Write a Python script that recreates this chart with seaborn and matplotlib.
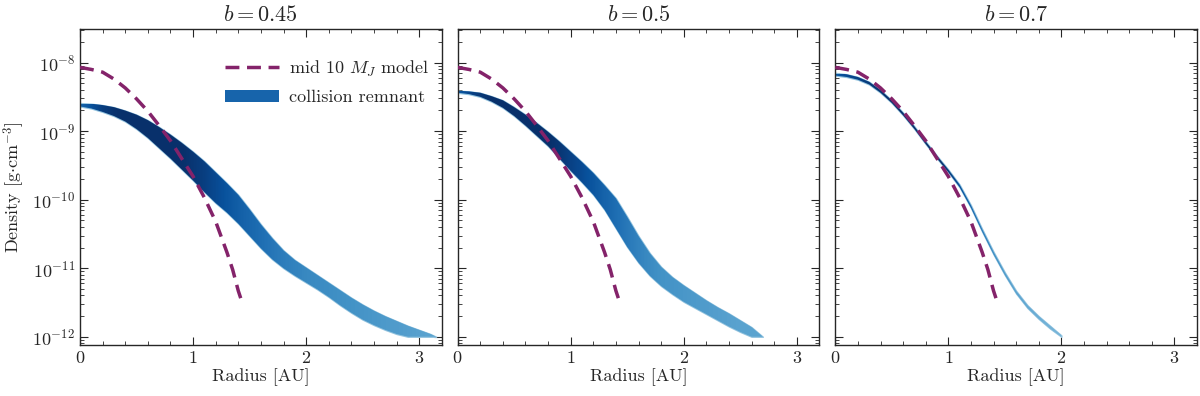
import numpy as np
import matplotlib
matplotlib.use("Agg")
import matplotlib.pyplot as plt
from matplotlib.patches import Patch
from matplotlib.ticker import AutoMinorLocator
import seaborn as sns

# --- data (log10 of density in g cm^-3) ---
titles = [r"$b = 0.45$", r"$b = 0.5$", r"$b = 0.7$"]

# mid 10 M_J model profile (same in every panel)
model_r = [0.0, 0.1, 0.2, 0.3, 0.4, 0.5, 0.6, 0.7, 0.8, 0.9, 1.0, 1.1, 1.2, 1.3, 1.35, 1.4, 1.43]
model_logrho = [-8.07, -8.10, -8.14, -8.24, -8.37, -8.53, -8.71, -8.92, -9.14, -9.40, -9.66,
                -9.97, -10.32, -10.77, -11.02, -11.33, -11.48]

# collision remnant bands: radius, upper / lower edge, colour shade
r_045 = [0.0, 0.1, 0.2, 0.3, 0.4, 0.5, 0.6, 0.7, 0.8, 0.9, 1.0, 1.1, 1.2, 1.3, 1.4, 1.5, 1.6,
         1.7, 1.8, 1.9, 2.0, 2.1, 2.2, 2.3, 2.4, 2.5, 2.6, 2.7, 2.8, 2.9, 3.0, 3.1, 3.15]
hi_045 = [-8.59, -8.60, -8.62, -8.65, -8.70, -8.76, -8.84, -8.94, -9.05, -9.17, -9.30, -9.44,
          -9.60, -9.76, -9.93, -10.14, -10.36, -10.56, -10.74, -10.88, -10.99, -11.10, -11.21,
          -11.32, -11.43, -11.53, -11.62, -11.70, -11.77, -11.84, -11.90, -11.96, -12.0]
lo_045 = [-8.64, -8.67, -8.72, -8.78, -8.86, -8.97, -9.10, -9.25, -9.40, -9.56, -9.72, -9.89,
          -10.05, -10.19, -10.35, -10.53, -10.71, -10.87, -11.00, -11.11, -11.21, -11.31, -11.42,
          -11.54, -11.65, -11.75, -11.83, -11.90, -11.96, -12.0, -12.0, -12.0, -12.0]
shade_045 = [0.80, 0.88, 0.95, 0.99, 1.0, 1.0, 1.0, 1.0, 1.0, 1.0, 0.97, 0.94, 0.90, 0.86,
             0.82, 0.79, 0.76, 0.73, 0.70, 0.68, 0.66, 0.65, 0.64, 0.63, 0.62, 0.61, 0.60,
             0.59, 0.58, 0.57, 0.56, 0.55, 0.55]

r_05 = [0.0, 0.1, 0.2, 0.3, 0.4, 0.5, 0.6, 0.7, 0.8, 0.9, 1.0, 1.1, 1.2, 1.3, 1.4, 1.5, 1.6,
        1.7, 1.8, 1.9, 2.0, 2.1, 2.2, 2.3, 2.4, 2.5, 2.6, 2.7]
hi_05 = [-8.41, -8.42, -8.44, -8.49, -8.55, -8.65, -8.76, -8.88, -9.01, -9.15, -9.30, -9.45,
         -9.61, -9.79, -9.98, -10.25, -10.53, -10.78, -10.98, -11.13, -11.25, -11.36, -11.47,
         -11.57, -11.66, -11.76, -11.86, -12.0]
lo_05 = [-8.44, -8.46, -8.50, -8.57, -8.66, -8.78, -8.92, -9.07, -9.22, -9.40, -9.58, -9.75,
         -9.93, -10.15, -10.42, -10.69, -10.92, -11.11, -11.26, -11.38, -11.49, -11.58, -11.67,
         -11.76, -11.85, -11.93, -12.0, -12.0]
shade_05 = [0.85, 0.92, 0.97, 1.0, 1.0, 1.0, 1.0, 1.0, 1.0, 0.97, 0.93, 0.89, 0.85, 0.80,
            0.76, 0.72, 0.68, 0.65, 0.62, 0.61, 0.60, 0.59, 0.58, 0.57, 0.56, 0.55, 0.55, 0.55]

r_07 = [0.0, 0.1, 0.2, 0.3, 0.4, 0.5, 0.6, 0.7, 0.8, 0.9, 1.0, 1.1, 1.2, 1.3, 1.4, 1.5, 1.6,
        1.7, 1.8, 1.9, 2.0]
hi_07 = [-8.15, -8.17, -8.21, -8.28, -8.40, -8.55, -8.73, -8.93, -9.15, -9.36, -9.56, -9.78,
         -10.08, -10.43, -10.76, -11.06, -11.33, -11.54, -11.70, -11.84, -11.98]
lo_07 = [-8.19, -8.21, -8.25, -8.32, -8.44, -8.59, -8.77, -8.97, -9.19, -9.40, -9.60, -9.82,
         -10.12, -10.47, -10.80, -11.10, -11.37, -11.58, -11.74, -11.88, -12.0]
shade_07 = [0.85, 0.90, 0.93, 0.96, 0.98, 1.0, 1.0, 1.0, 1.0, 1.0, 0.95, 0.88, 0.80, 0.72,
            0.64, 0.58, 0.55, 0.52, 0.50, 0.48, 0.47]

bands = [(r_045, hi_045, lo_045, shade_045),
         (r_05, hi_05, lo_05, shade_05),
         (r_07, hi_07, lo_07, shade_07)]

model_color = "#84236a"
remnant_color = "#1764ab"

sns.set_style("ticks")
plt.rcParams.update({
    "font.family": "serif",
    "font.serif": ["cmr10"],
    "mathtext.fontset": "cm",
    "axes.unicode_minus": False,
    "axes.formatter.use_mathtext": True,
    "xtick.direction": "in",
    "ytick.direction": "in",
    "xtick.top": True,
    "ytick.right": True,
    "xtick.major.size": 6,
    "ytick.major.size": 6,
    "xtick.minor.size": 3,
    "ytick.minor.size": 3,
    "axes.linewidth": 1.0,
})

cmap = sns.color_palette("Blues", as_cmap=True)

fig, axes = plt.subplots(1, 3, figsize=(12, 3.96), dpi=100, sharey=True)
fig.subplots_adjust(left=0.0667, right=0.9975, bottom=0.129, top=0.927, wspace=0.044)

for ax, title, (r, hi, lo, shade) in zip(axes, titles, bands):
    r = np.array(r)
    hi = 10.0 ** np.array(hi)
    lo = 10.0 ** np.array(lo)
    # light fringe round the histogram band, then the shaded band clipped to it
    band = ax.fill_between(r, lo, hi, color=cmap(0.4), lw=1.0, edgecolor=cmap(0.4), zorder=1)
    xg = np.linspace(0, r[-1], 600)
    colours = np.interp(xg, r, shade)[np.newaxis, :]
    im = ax.imshow(colours, cmap=cmap, vmin=0, vmax=1, aspect="auto", origin="lower",
                   extent=(0, r[-1], lo.min(), hi.max()), interpolation="nearest", zorder=2)
    im.set_clip_path(band.get_paths()[0], transform=ax.transData)

    sns.lineplot(x=model_r, y=10.0 ** np.array(model_logrho), ax=ax, color=model_color,
                 lw=2.5, linestyle=(0, (4, 2.2)), zorder=5)

    ax.set_yscale("log")
    ax.set_xlim(0, 3.2)
    ax.set_ylim(7.6e-13, 3.1e-8)
    ax.set_xticks([0, 1, 2, 3])
    ax.xaxis.set_minor_locator(AutoMinorLocator(5))
    ax.tick_params(labelsize=13)
    ax.set_title(title, fontsize=16, pad=6)
    ax.set_xlabel("Radius [AU]", fontsize=13, labelpad=2)
    if ax.get_legend() is not None:
        ax.get_legend().remove()

axes[0].set_ylabel(r"Density [g$\cdot$cm$^{-3}$]", fontsize=13)

handles = [plt.Line2D([], [], color=model_color, lw=2.5, linestyle=(0, (4, 2.2))),
           Patch(facecolor=remnant_color, edgecolor="none")]
axes[0].legend(handles, [r"mid 10 $M_J$ model", "collision remnant"], loc="upper right",
               bbox_to_anchor=(1.0, 0.946), frameon=False, fontsize=13, handlelength=3.0,
               handletextpad=0.5, labelspacing=0.6, borderaxespad=0.3)

fig.savefig("out.png", dpi=100)
